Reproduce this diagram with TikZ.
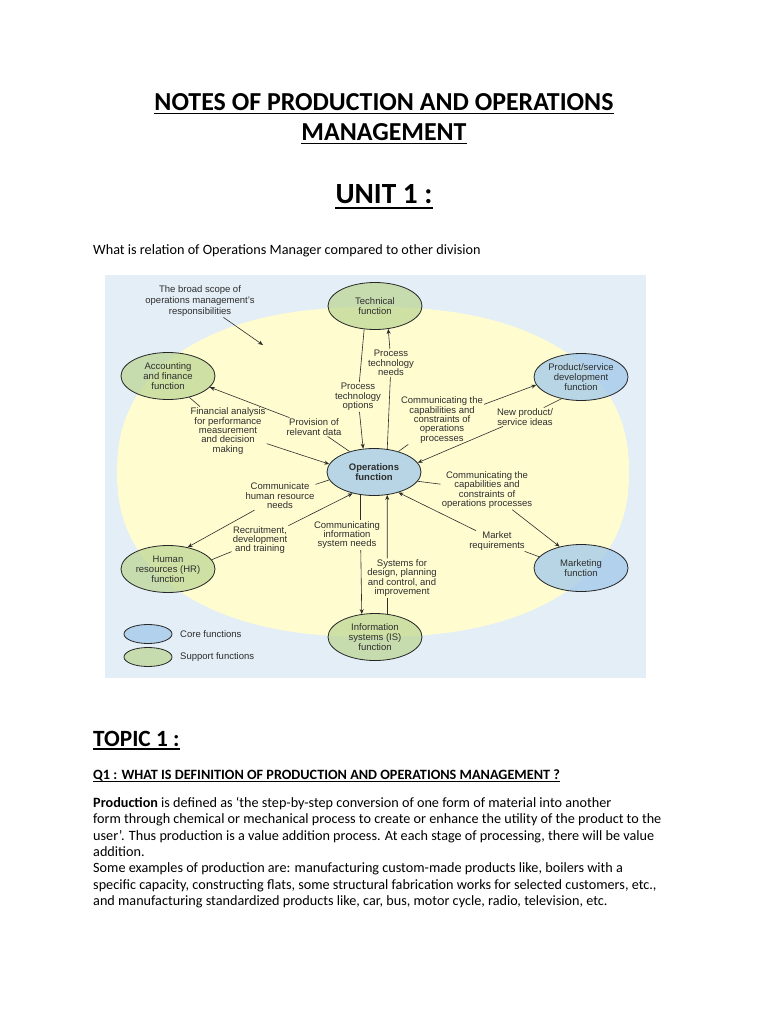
\documentclass[tikz,border=0pt]{standalone}
\usepackage{fontspec}
\setmainfont{Carlito}
\newfontfamily\diag{Liberation Sans}
\usetikzlibrary{shapes.geometric,arrows.meta}

\definecolor{panel}{RGB}{228,238,246}
\definecolor{yel}{RGB}{255,252,208}
\definecolor{coreblue}{RGB}{160,200,235}
\definecolor{suppgreen}{RGB}{190,215,150}
\definecolor{ink}{RGB}{45,45,45}

\tikzset{
  func/.style={ellipse, draw=black!85, line width=0.8pt, minimum width=94pt, minimum height=47pt,
    inner sep=0.5pt, align=center, font=\diag\fontsize{9.5}{10}\selectfont, text=ink,
    fill opacity=0.75, text opacity=1},
  core/.style={func, fill=coreblue},
  supp/.style={func, fill=suppgreen},
  lab/.style={align=center, font=\diag\fontsize{9.5}{9.4}\selectfont, text=ink, inner sep=1pt},
  arr/.style={draw=ink, line width=0.6pt, -{Stealth[length=5pt,width=4pt]}},
  ln/.style={draw=ink, line width=0.6pt},
  head/.style={font=\bfseries\fontsize{25.9}{30}\selectfont, anchor=base, inner sep=0pt},
  body/.style={font=\fontsize{14.2}{16}\selectfont, anchor=base west, inner sep=0pt},
  uline/.style={line width=1.5pt},
}

\begin{document}
\begin{tikzpicture}[x=1pt,y=-1pt]
\useasboundingbox (0,0) rectangle (768,1024);
\fill[white] (0,0) rectangle (768,1024);

% ---------- headings ----------
\node[head] (t1) at (384,111) {NOTES OF PRODUCTION AND OPERATIONS};
\node[head] (t2) at (384,141) {MANAGEMENT};
\draw[uline] ([yshift=-2.5pt]t1.base west) -- ([yshift=-2.5pt]t1.base east);
\draw[uline] ([yshift=-2.5pt]t2.base west) -- ([yshift=-2.5pt]t2.base east);
\node[head, font=\bfseries\fontsize{29.3}{32}\selectfont] (unit) at (384,204) {UNIT 1 :};
\draw[uline] ([yshift=-4pt]unit.base west) -- ([yshift=-4pt]unit.base east);
\node[body] (q0) at (93,254) {What is relation of Operations Manager compared to other division};

% ---------- diagram ----------
\fill[panel] (105,275) rectangle (646,678);
\fill[yel] plot[domain=0.5:360.5, samples=121, variable=\t]
  ({373+256*sign(cos(\t))*abs(cos(\t))^0.87}, {472+165*sign(sin(\t))*abs(sin(\t))^0.87}) -- cycle;

\node[supp] (tech) at (375,306) {Technical\\function};
\node[supp] (acc)  at (168,376) {Accounting\\and finance\\function};
\node[core] (prod) at (581,377) {Product/service\\development\\function};
\node[core, font=\diag\bfseries\fontsize{9.5}{10}\selectfont] (ops) at (374,472) {Operations\\function};
\node[supp] (hr)   at (168,569) {Human\\resources (HR)\\function};
\node[core] (mkt)  at (581,568) {Marketing\\function};
\node[supp] (is)   at (375,637) {Information\\systems (IS)\\function};

\node[core, minimum width=48pt, minimum height=19pt] (lcore) at (148,634) {};
\node[supp, minimum width=48pt, minimum height=19pt] (lsupp) at (148,657) {};
\node[lab, anchor=west] (lcoret) at (179,634) {Core functions};
\node[lab, anchor=west] (lsuppt) at (179,657) {Support functions};

\node[lab, font=\diag\fontsize{9.5}{10.8}\selectfont] (scope) at (200,301) {The broad scope of\\operations management’s\\responsibilities};
\coordinate (scopetip) at (263,345);
\node[lab] (pto)  at (358,397) {Process\\technology\\options};
\node[lab] (ptn)  at (391,363) {Process\\technology\\needs};
\node[lab] (prov) at (314,427) {Provision of\\relevant data};
\node[lab] (fin)  at (228,431) {Financial analysis\\for performance\\measurement\\and decision\\making};
\node[lab] (cap1) at (442,420) {Communicating the\\capabilities and\\constraints of\\operations\\processes};
\node[lab] (newp) at (525,417) {New product/\\service ideas};
\node[lab] (cap2) at (487,490) {Communicating the\\capabilities and\\constraints of\\operations processes};
\node[lab] (chr)  at (280,496) {Communicate\\human resource\\needs};
\node[lab] (rec)  at (260,540) {Recruitment,\\development\\and training};
\node[lab] (isn)  at (347,535) {Communicating\\information\\system needs};
\node[lab] (mreq) at (497,541) {Market\\requirements};
\node[lab] (sys)  at (402,578) {Systems for\\design, planning\\and control, and\\improvement};

\draw[arr] (scope) -- (scopetip);
\draw[arr] (tech.245) -- (pto) -- (ops.115);
\draw[arr] (ops.60) -- (ptn) -- (tech.300);
\draw[arr] (ops.140) -- (prov) -- (acc.-15);
\draw[arr] (acc.-45) -- (fin) -- (ops.170);
\draw[arr] (ops.40) -- (cap1) -- (prod.190);
\draw[arr] (prod.228) -- (newp) -- (ops.12);
\draw[arr] (ops.-12) -- (cap2) -- (mkt.135);
\draw[arr] (mkt.165) -- (mreq) -- (ops.-40);
\draw[arr] (ops.190) -- (chr) -- (hr.48);
\draw[arr] (hr.12) -- (rec) -- (ops.-135);
\draw[ln]  (ops.-120) -- (ops.-120 |- isn.north);
\draw[arr] (ops.-120 |- isn.south) -- (is.120);
\draw[ln]  (is.62) -- (is.62 |- sys.south);
\draw[arr] (is.62 |- sys.north) -- (ops.-60);

% ---------- text below ----------
\node[head, anchor=base west, font=\bfseries\fontsize{23.3}{26}\selectfont] (topic) at (93,746) {TOPIC 1 :};
\draw[uline] ([yshift=-3pt]topic.base west) -- ([yshift=-3pt]topic.base east);
\node[body, font=\bfseries\fontsize{14.2}{16}\selectfont] (q1) at (93,779) {Q1 : WHAT IS DEFINITION OF PRODUCTION AND OPERATIONS MANAGEMENT ?};
\draw[line width=0.8pt] ([yshift=-2.5pt]q1.base west) -- ([yshift=-2.5pt]q1.base east);

\node[body] (b1) at (93,807.5) {\textbf{Production} is defined as ‘the step-by-step conversion of one form of material into another};
\node[body] (b2) at (93,823.8) {form through chemical or mechanical process to create or enhance the utility of the product to the};
\node[body] (b3) at (93,840.1) {user’. Thus production is a value addition process. At each stage of processing, there will be value};
\node[body] (b4) at (93,856.4) {addition.};
\node[body] (b5) at (93,872.7) {Some examples of production are: manufacturing custom-made products like, boilers with a};
\node[body] (b6) at (93,889)   {specific capacity, constructing flats, some structural fabrication works for selected customers, etc.,};
\node[body] (b7) at (93,905.3) {and manufacturing standardized products like, car, bus, motor cycle, radio, television, etc.};
\end{tikzpicture}
\end{document}
